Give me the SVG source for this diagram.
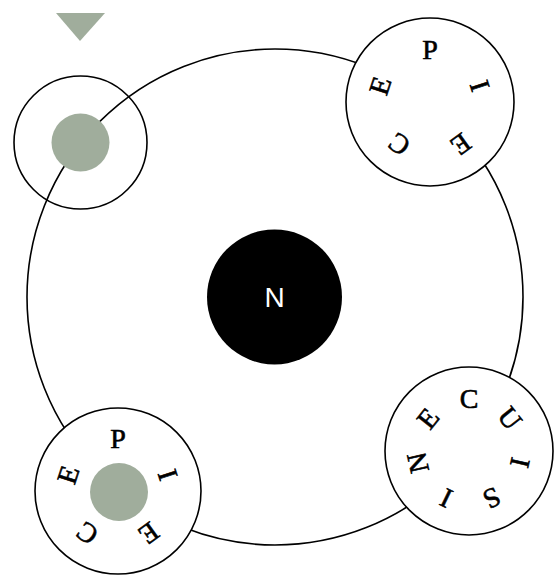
<svg xmlns="http://www.w3.org/2000/svg" width="558" height="582" viewBox="0 0 558 582">
<style>
.ring{fill:none;stroke:#000;stroke-width:1.6}
.node{fill:#fff;stroke:#000;stroke-width:1.6}
.open{fill:none;stroke:#000;stroke-width:1.6}
.dot{fill:#a0ad9c}
.lt{font-family:"Liberation Serif","Times New Roman",serif;font-size:28px;fill:#000;stroke:#000;stroke-width:0.6;text-anchor:middle}
.n{font-family:"Liberation Sans",Arial,sans-serif;font-size:28px;fill:#fff;text-anchor:middle}
</style>
<rect width="558" height="582" fill="#fff"/>
<g id="connectors">
<circle class="ring" cx="275" cy="297" r="248"/>
</g>
<g id="marker">
<polygon class="dot" points="56,13 105,13 80,41"/>
</g>
<g id="node-start">
<circle class="open" cx="80.5" cy="142.5" r="66.5"/>
<circle class="dot" cx="80.5" cy="142.5" r="29"/>
</g>
<g id="node-center">
<circle cx="274.5" cy="297" r="67.5" fill="#000"/>
<text class="n" x="274.5" y="307">N</text>
</g>
<g id="node-piece-top">
<circle class="node" cx="430" cy="102" r="84"/>
<text class="lt" x="430" y="59" transform="rotate(0 430 102)">P</text>
<text class="lt" x="430" y="59" transform="rotate(72 430 102)">I</text>
<text class="lt" x="430" y="59" transform="rotate(144 430 102)">E</text>
<text class="lt" x="430" y="59" transform="rotate(216 430 102)">C</text>
<text class="lt" x="430" y="59" transform="rotate(288 430 102)">E</text>
</g>
<g id="node-cuisine">
<circle class="node" cx="469" cy="451" r="84"/>
<text class="lt" x="469" y="408" transform="rotate(0 469 451)">C</text>
<text class="lt" x="469" y="408" transform="rotate(51.43 469 451)">U</text>
<text class="lt" x="469" y="408" transform="rotate(102.86 469 451)">I</text>
<text class="lt" x="469" y="408" transform="rotate(154.29 469 451)">S</text>
<text class="lt" x="469" y="408" transform="rotate(205.71 469 451)">I</text>
<text class="lt" x="469" y="408" transform="rotate(257.14 469 451)">N</text>
<text class="lt" x="469" y="408" transform="rotate(308.57 469 451)">E</text>
</g>
<g id="node-piece-bottom">
<circle class="node" cx="118" cy="491" r="83"/>
<circle class="dot" cx="119" cy="492" r="29"/>
<text class="lt" x="118" y="448" transform="rotate(0 118 491)">P</text>
<text class="lt" x="118" y="448" transform="rotate(72 118 491)">I</text>
<text class="lt" x="118" y="448" transform="rotate(144 118 491)">E</text>
<text class="lt" x="118" y="448" transform="rotate(216 118 491)">C</text>
<text class="lt" x="118" y="448" transform="rotate(288 118 491)">E</text>
</g>
</svg>
